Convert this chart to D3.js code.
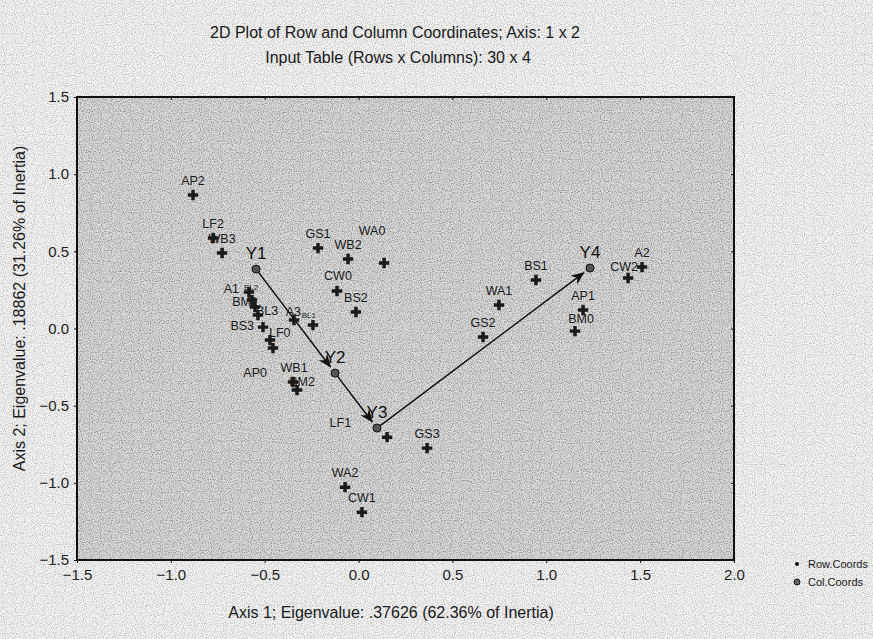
<!DOCTYPE html>
<html>
<head>
<meta charset="utf-8">
<script src="https://cdn.jsdelivr.net/npm/d3@7"></script>
<style>
  body { margin: 0; background: #ededed; }
  svg { font-family: "Liberation Sans", Arial, sans-serif; }
</style>
</head>
<body>
<div id="viz-container"></div>
<script>
// Row coordinates (30 rows)
const rowNames = ["AP2", "LF2", "WB3", "GS1", "WB2", "WA0", "CW0", "BS2", "A3", "BL1",
                  "A1", "BL2", "BM1", "BL3", "BS3", "LF0", "AP0", "WB1", "BM2", "LF1",
                  "GS3", "WA2", "CW1", "BS1", "WA1", "GS2", "AP1", "BM0", "CW2", "A2"];
const rowX = [-0.882, -0.775, -0.727, -0.216, -0.056, 0.136, -0.115, -0.014, -0.344, -0.243,
              -0.584, -0.568, -0.552, -0.536, -0.509, -0.472, -0.456, -0.349, -0.328, 0.152,
              0.365, -0.072, 0.018, 0.945, 0.748, 0.663, 1.196, 1.153, 1.436, 1.510];
const rowY = [0.865, 0.586, 0.489, 0.521, 0.450, 0.424, 0.243, 0.107, 0.055, 0.022,
              0.236, 0.184, 0.139, 0.087, 0.009, -0.075, -0.127, -0.347, -0.399, -0.704,
              -0.775, -1.028, -1.190, 0.314, 0.152, -0.055, 0.120, -0.017, 0.327, 0.398];

// Column coordinates (4 columns)
const colNames = ["Y1", "Y2", "Y3", "Y4"];
const colX = [-0.546, -0.125, 0.098, 1.233];
const colY = [0.385, -0.289, -0.645, 0.392];

const xTicks = [-1.5, -1.0, -0.5, 0.0, 0.5, 1.0, 1.5, 2.0];
const yTicks = [-1.5, -1.0, -0.5, 0.0, 0.5, 1.0, 1.5];

const rows = rowNames.map((n, i) => ({ name: n, x: rowX[i], y: rowY[i] }));
const cols = colNames.map((n, i) => ({ name: n, x: colX[i], y: colY[i] }));

const W = 873, H = 639;
const margin = { top: 97, right: 139, bottom: 79, left: 77 },
    width = W - margin.left - margin.right,
    height = H - margin.top - margin.bottom;

const svg = d3.select("#viz-container")
    .append("svg")
    .attr("width", W)
    .attr("height", H);

// scanned paper speckle
const defs = svg.append("defs");
const f = defs.append("filter").attr("id", "grain").attr("x", 0).attr("y", 0).attr("width", 1).attr("height", 1);
f.append("feTurbulence").attr("type", "fractalNoise").attr("baseFrequency", 0.9).attr("numOctaves", 1).attr("seed", 3);
f.append("feColorMatrix").attr("type", "matrix")
    .attr("values", "0 0 0 0 0  0 0 0 0 0  0 0 0 0 0  0 0 0 -2.2 1.25");
defs.append("marker")
    .attr("id", "arrow")
    .attr("viewBox", "0 0 10 10")
    .attr("refX", 9).attr("refY", 5)
    .attr("markerWidth", 9).attr("markerHeight", 9)
    .attr("orient", "auto")
    .append("path")
    .attr("d", "M0,1 L10,5 L0,9 L3,5 Z")
    .attr("fill", "#111");

svg.append("rect").attr("width", W).attr("height", H).attr("fill", "#f4f4f4");
svg.append("rect").attr("width", W).attr("height", H).attr("filter", "url(#grain)").attr("opacity", 0.3);

const chart = svg.append("g")
    .attr("transform", `translate(${margin.left},${margin.top})`);

const x = d3.scaleLinear().domain([-1.5, 2.0]).range([0, width]);
const y = d3.scaleLinear().domain([-1.5, 1.5]).range([height, 0]);

// plot area
chart.append("rect")
    .attr("width", width).attr("height", height)
    .attr("fill", "#dadada");
chart.append("rect")
    .attr("width", width).attr("height", height)
    .attr("filter", "url(#grain)").attr("opacity", 0.45);

// axes
const xAxis = chart.append("g")
    .attr("transform", `translate(0,${height})`)
    .call(d3.axisBottom(x).tickValues(xTicks).tickFormat(d3.format(".1f")).tickSize(3).tickPadding(6));
const yAxis = chart.append("g")
    .call(d3.axisLeft(y).tickValues(yTicks).tickFormat(d3.format(".1f")).tickSize(3).tickPadding(5));
chart.append("g")
    .attr("transform", `translate(${width},0)`)
    .call(d3.axisRight(y).tickValues(yTicks).tickFormat("").tickSize(-3));
chart.append("g")
    .call(d3.axisTop(x).tickValues(xTicks).tickFormat("").tickSize(-3));
[xAxis, yAxis].forEach(a => {
    a.selectAll("text").attr("font-size", 15).attr("fill", "#222")
        .attr("font-family", "'Liberation Sans', Arial, sans-serif");
});
chart.selectAll(".domain").attr("stroke", "none");
chart.selectAll(".tick line").attr("stroke", "#111");

chart.append("rect")
    .attr("width", width).attr("height", height)
    .attr("fill", "none").attr("stroke", "#111").attr("stroke-width", 2);

// arrows between column points
const shorten = 8;
for (let i = 0; i < cols.length - 1; i++) {
    const a = cols[i], b = cols[i + 1];
    const x1 = x(a.x), y1 = y(a.y), x2 = x(b.x), y2 = y(b.y);
    const len = Math.hypot(x2 - x1, y2 - y1);
    chart.append("line")
        .attr("x1", x1).attr("y1", y1)
        .attr("x2", x2 - (x2 - x1) / len * shorten)
        .attr("y2", y2 - (y2 - y1) / len * shorten)
        .attr("stroke", "#111").attr("stroke-width", 1.5)
        .attr("marker-end", "url(#arrow)");
}

// row points
const cross = d3.symbol().type(d3.symbolCross).size(60);
chart.selectAll(".row")
    .data(rows)
    .join("path")
    .attr("class", "row")
    .attr("transform", d => `translate(${x(d.x)},${y(d.y)})`)
    .attr("d", cross)
    .attr("fill", "#1a1a1a");

// row labels: centred above by default, a few moved aside as in the original
const labelPlace = {
    A1: { anchor: "end", dx: -10, dy: 1 },
    BL2: { anchor: "start", dx: -8, dy: -10, size: 8 },
    BM1: { anchor: "end", dx: 3, dy: -1 },
    BL3: { anchor: "start", dx: -2, dy: 0 },
    BS3: { anchor: "end", dx: -9, dy: 3 },
    LF0: { anchor: "start", dx: -1, dy: -3 },
    AP0: { anchor: "end", dx: -6, dy: 29 },
    WB1: { anchor: "middle", dx: 1, dy: -10 },
    BM2: { anchor: "middle", dx: 5, dy: -4 },
    A3: { anchor: "end", dx: 7, dy: -4 },
    BL1: { anchor: "end", dx: 3, dy: -7, size: 8 },
    LF1: { anchor: "end", dx: -36, dy: -10 },
    WA0: { anchor: "middle", dx: -12, dy: -28 },
    CW2: { anchor: "middle", dx: -4, dy: -7 },
    BM0: { anchor: "middle", dx: 6, dy: -8 },
    CW0: { anchor: "middle", dx: 1, dy: -11 }
};
chart.selectAll(".rowlab")
    .data(rows)
    .join("text")
    .attr("class", "rowlab")
    .attr("x", d => x(d.x) + (labelPlace[d.name] ? labelPlace[d.name].dx : 0))
    .attr("y", d => y(d.y) + (labelPlace[d.name] ? labelPlace[d.name].dy : -10))
    .attr("text-anchor", d => labelPlace[d.name] ? labelPlace[d.name].anchor : "middle")
    .attr("font-size", d => labelPlace[d.name] && labelPlace[d.name].size ? labelPlace[d.name].size : 12.5)
    .attr("fill", "#1a1a1a")
    .text(d => d.name);

// column points
chart.selectAll(".col")
    .data(cols)
    .join("circle")
    .attr("class", "col")
    .attr("cx", d => x(d.x)).attr("cy", d => y(d.y))
    .attr("r", 4)
    .attr("fill", "#555").attr("stroke", "#111").attr("stroke-width", 1);
chart.selectAll(".collab")
    .data(cols)
    .join("text")
    .attr("class", "collab")
    .attr("x", d => x(d.x)).attr("y", d => y(d.y) - 10)
    .attr("text-anchor", "middle")
    .attr("font-size", 17)
    .attr("fill", "#111")
    .text(d => d.name);

// titles
svg.append("text")
    .attr("x", 395).attr("y", 38)
    .attr("text-anchor", "middle").attr("font-size", 16).attr("fill", "#1a1a1a")
    .text("2D Plot of Row and Column Coordinates; Axis: 1 x 2");
svg.append("text")
    .attr("x", 398).attr("y", 63)
    .attr("text-anchor", "middle").attr("font-size", 16).attr("fill", "#1a1a1a")
    .text("Input Table (Rows x Columns): 30 x 4");
svg.append("text")
    .attr("x", 391).attr("y", 618)
    .attr("text-anchor", "middle").attr("font-size", 16).attr("fill", "#1a1a1a")
    .text("Axis 1; Eigenvalue: .37626 (62.36% of Inertia)");
svg.append("text")
    .attr("transform", `translate(25,${margin.top + height / 2 - 20}) rotate(-90)`)
    .attr("text-anchor", "middle").attr("font-size", 16).attr("fill", "#1a1a1a")
    .text("Axis 2; Eigenvalue: .18862 (31.26% of Inertia)");

// legend
const leg = svg.append("g").attr("transform", "translate(797,564)");
leg.append("circle").attr("r", 2).attr("fill", "#111");
leg.append("text").attr("x", 11).attr("y", 4).attr("font-size", 11).attr("fill", "#1a1a1a").text("Row.Coords");
leg.append("circle").attr("cy", 18).attr("r", 3).attr("fill", "#666").attr("stroke", "#111");
leg.append("text").attr("x", 11).attr("y", 22).attr("font-size", 11).attr("fill", "#1a1a1a").text("Col.Coords");
</script>
</body>
</html>
